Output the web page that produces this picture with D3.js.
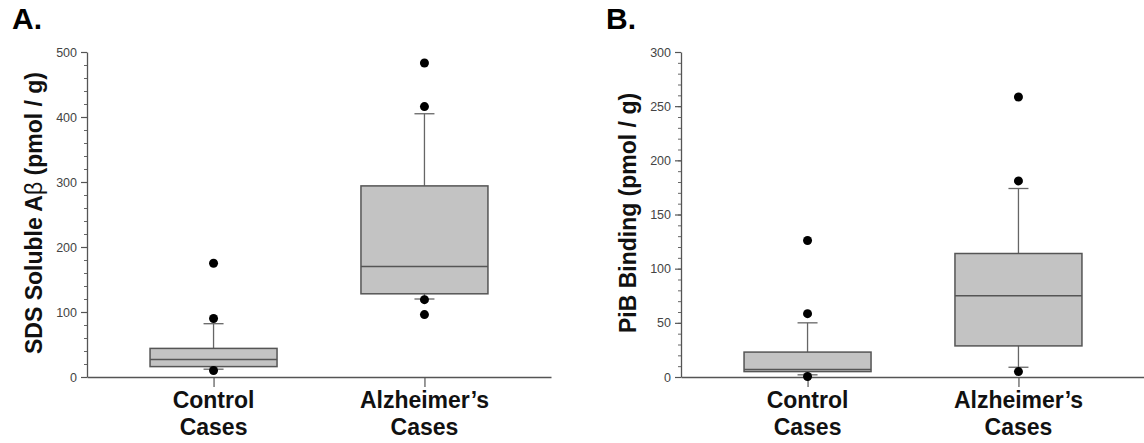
<!DOCTYPE html>
<html>
<head>
<meta charset="utf-8">
<script src="https://cdn.jsdelivr.net/npm/d3@7"></script>
<style>
  body { margin: 0; background: #fff; }
  svg { display: block; }
</style>
</head>
<body>
<script>
var w = 1144;
var h = 443;

// categories (two lines each)
var categories = ['Control Cases', 'Alzheimer\u2019s Cases'];
var categoryLines = [['Control', 'Cases'], ['Alzheimer\u2019s', 'Cases']];

// panel A: SDS soluble Abeta, box stats [whiskerLow, q1, median, q3, whiskerHigh]
var boxesA = [
   [12, 16, 27, 44, 82],
   [120, 128, 170, 294, 405]
];
var outliersA = [
   [10, 90, 175],
   [96, 119, 416, 483]
];
var ticksA = [0, 100, 200, 300, 400, 500];

// panel B: PiB binding
var boxesB = [
   [2, 5, 7, 23, 50],
   [9, 28.7, 75, 114, 174]
];
var outliersB = [
   [0.5, 58.5, 126],
   [5, 181, 258.5]
];
var ticksB = [0, 50, 100, 150, 200, 250, 300];

var svg = d3.select('body')
   .append('svg')
   .attr('width', w)
   .attr('height', h);

var font = 'Arial, "Liberation Sans", sans-serif';

function drawPanel(opts) {
   var g = svg.append('g').attr('transform', 'translate(' + opts.dx + ',0)');

   var x = d3.scalePoint()
      .domain(categories)
      .range([87, 551])
      .padding(0.6);
   var y = d3.scaleLinear()
      .domain([0, opts.max])
      .range([377, 52]);
   var boxW = 127;
   var capW = 20;

   // minor ticks
   var minor = g.append('g')
      .attr('transform', 'translate(87,0)')
      .call(d3.axisLeft(y).tickValues(d3.range(0, opts.max, opts.minor)).tickSize(3).tickFormat(''));
   minor.select('.domain').remove();
   minor.selectAll('line').attr('stroke', '#666').attr('stroke-width', 1);

   // major ticks
   var yAxis = g.append('g')
      .attr('transform', 'translate(87,0)')
      .call(d3.axisLeft(y).tickValues(opts.ticks).tickSize(6).tickSizeOuter(0).tickPadding(4));
   yAxis.select('.domain').attr('stroke', '#555').attr('stroke-width', 1.3);
   yAxis.selectAll('line').attr('stroke', '#555').attr('stroke-width', 1.2);
   yAxis.selectAll('text')
      .attr('font-family', font)
      .attr('font-size', '12.5px')
      .attr('fill', '#444');

   // x axis
   var xAxis = g.append('g')
      .attr('transform', 'translate(0,377)')
      .call(d3.axisBottom(x).tickSize(10).tickSizeOuter(0).tickFormat(''));
   xAxis.select('.domain').attr('stroke', '#555').attr('stroke-width', 1.3);
   xAxis.selectAll('line').attr('stroke', '#555').attr('stroke-width', 1.2);

   // category labels
   var labels = g.selectAll('text.cat')
      .data(categories)
      .enter()
      .append('text')
      .attr('class', 'cat')
      .attr('text-anchor', 'middle')
      .attr('font-family', font)
      .attr('font-weight', 'bold')
      .attr('font-size', '23px')
      .attr('fill', '#111');
   labels.selectAll('tspan')
      .data(function(d, i) { return categoryLines[i]; })
      .enter()
      .append('tspan')
      .attr('x', function() { return x(d3.select(this.parentNode).datum()); })
      .attr('y', function(d, i) { return 408 + i * 27; })
      .text(function(d) { return d; });

   // boxes
   var box = g.selectAll('g.box')
      .data(opts.boxes)
      .enter()
      .append('g')
      .attr('class', 'box');

   box.append('line')
      .attr('x1', function(d, i) { return x(categories[i]); })
      .attr('x2', function(d, i) { return x(categories[i]); })
      .attr('y1', function(d) { return y(d[3]); })
      .attr('y2', function(d) { return y(d[4]); })
      .attr('stroke', '#666').attr('stroke-width', 1.3);
   box.append('line')
      .attr('x1', function(d, i) { return x(categories[i]); })
      .attr('x2', function(d, i) { return x(categories[i]); })
      .attr('y1', function(d) { return y(d[1]); })
      .attr('y2', function(d) { return y(d[0]); })
      .attr('stroke', '#666').attr('stroke-width', 1.3);
   [0, 4].forEach(function(k) {
      box.append('line')
         .attr('x1', function(d, i) { return x(categories[i]) - capW / 2; })
         .attr('x2', function(d, i) { return x(categories[i]) + capW / 2; })
         .attr('y1', function(d) { return y(d[k]); })
         .attr('y2', function(d) { return y(d[k]); })
         .attr('stroke', '#666').attr('stroke-width', 1.3);
   });
   box.append('rect')
      .attr('x', function(d, i) { return x(categories[i]) - boxW / 2; })
      .attr('y', function(d) { return y(d[3]); })
      .attr('width', boxW)
      .attr('height', function(d) { return y(d[1]) - y(d[3]); })
      .attr('fill', '#c3c3c3')
      .attr('stroke', '#555')
      .attr('stroke-width', 1.5);
   box.append('line')
      .attr('x1', function(d, i) { return x(categories[i]) - boxW / 2; })
      .attr('x2', function(d, i) { return x(categories[i]) + boxW / 2; })
      .attr('y1', function(d) { return y(d[2]); })
      .attr('y2', function(d) { return y(d[2]); })
      .attr('stroke', '#555').attr('stroke-width', 1.5);

   // outliers
   opts.outliers.forEach(function(vals, i) {
      g.selectAll('circle.o' + i)
         .data(vals)
         .enter()
         .append('circle')
         .attr('class', 'o' + i)
         .attr('cx', x(categories[i]))
         .attr('cy', function(d) { return y(d); })
         .attr('r', 4.5)
         .attr('fill', '#000');
   });

   // y title
   var title = g.append('text')
      .attr('transform', 'translate(42,213) rotate(-90)')
      .attr('text-anchor', 'middle')
      .attr('font-family', font)
      .attr('font-weight', 'bold')
      .attr('font-size', '23px')
      .attr('fill', '#111');
   opts.title.forEach(function(part) {
      title.append('tspan')
         .attr('font-weight', part[1] ? 'normal' : 'bold')
         .text(part[0]);
   });

   // panel letter
   g.append('text')
      .attr('x', 12)
      .attr('y', 29)
      .attr('font-family', font)
      .attr('font-weight', 'bold')
      .attr('font-size', '30px')
      .attr('fill', '#000')
      .text(opts.letter);
}

drawPanel({
   dx: 0, max: 500, minor: 20, ticks: ticksA,
   boxes: boxesA, outliers: outliersA, letter: 'A.',
   title: [['SDS Soluble A', false], ['\u03b2', true], [' (pmol / g)', false]]
});
drawPanel({
   dx: 594, max: 300, minor: 10, ticks: ticksB,
   boxes: boxesB, outliers: outliersB, letter: 'B.',
   title: [['PiB Binding (pmol / g)', false]]
});
</script>
</body>
</html>
